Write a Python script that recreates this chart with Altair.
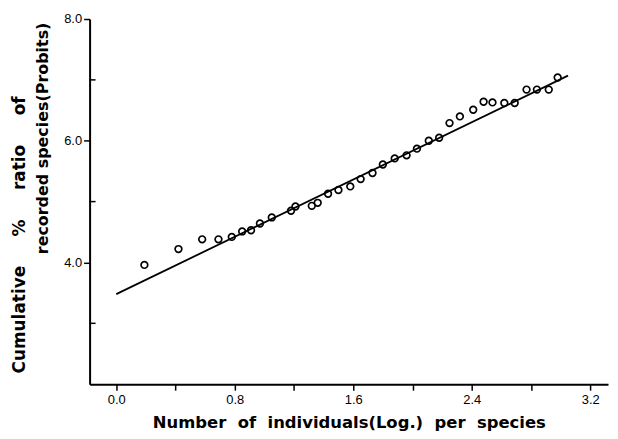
import altair as alt
import pandas as pd

# Observed points (log number of individuals, cumulative % in probits)
x_obs = [0.19, 0.42, 0.58, 0.69, 0.78, 0.85, 0.91, 0.97, 1.05, 1.18, 1.21,
         1.32, 1.36, 1.43, 1.50, 1.58, 1.65, 1.73, 1.80, 1.88, 1.96, 2.03,
         2.11, 2.18, 2.25, 2.32, 2.41, 2.48, 2.54, 2.62, 2.69, 2.77, 2.84,
         2.92, 2.98]
y_obs = [3.96, 4.22, 4.38, 4.38, 4.42, 4.51, 4.53, 4.64, 4.74, 4.85, 4.92,
         4.93, 4.98, 5.13, 5.19, 5.25, 5.37, 5.47, 5.61, 5.71, 5.76, 5.87,
         6.00, 6.05, 6.29, 6.40, 6.51, 6.64, 6.63, 6.62, 6.62, 6.84, 6.84,
         6.84, 7.04]

# Fitted line end points
x_fit = [0.0, 3.05]
y_fit = [3.48, 7.07]

x_tick_values = [0.0, 0.4, 0.8, 1.2, 1.6, 2.0, 2.4, 2.8, 3.2]
y_tick_values = [4.0, 6.0, 8.0]
y_minor_ticks = [3.0, 5.0, 7.0]

NB = "\u00a0"
x_title = (NB * 2).join(["Number", "of", "individuals(Log.)", "per", "species"])
y_title_1 = (NB * 5).join(["Cumulative", "%", "ratio", "of"])
y_title_2 = "recorded species(Probits)"

pts = pd.DataFrame({"x": x_obs, "y": y_obs})
fit = pd.DataFrame({"x": x_fit, "y": y_fit})
minor = pd.DataFrame({"y": y_minor_ticks})

xscale = alt.Scale(domain=[-0.18, 3.32], nice=False, zero=False)
yscale = alt.Scale(domain=[2.0, 8.0], nice=False, zero=False)

label_font = "Liberation Sans"
title_font = "DejaVu Sans"

xaxis = alt.Axis(values=x_tick_values, title=x_title,
                 labelExpr="(round(datum.value*10) % 8 == 0) ? format(datum.value, '.1f') : ''",
                 tickSize=6, labelPadding=3, labelFont=label_font, labelFontSize=13,
                 labelColor="black", titleFont=title_font, titleFontSize=16.5,
                 titleFontWeight="bold", titleColor="black", titlePadding=9)
yaxis = alt.Axis(values=y_tick_values, format=".1f", title=None,
                 tickSize=6, labelPadding=2, labelFont=label_font, labelFontSize=13,
                 labelColor="black")

x_enc = alt.X("x:Q", scale=xscale, axis=xaxis)
y_enc = alt.Y("y:Q", scale=yscale, axis=yaxis)

points = alt.Chart(pts).mark_point(
    shape="circle", filled=False, color="black", size=45, strokeWidth=1.7, opacity=1
).encode(x=x_enc, y=y_enc)

line = alt.Chart(fit).mark_line(color="black", strokeWidth=1.8).encode(x=x_enc, y=y_enc)

minor_ticks = alt.Chart(minor).mark_rule(color="black", strokeWidth=1.5).encode(
    y=y_enc,
    x=alt.value(0),
    x2=alt.value(6),
)

t1 = alt.Chart(alt.Data(values=[{}])).mark_text(
    text=y_title_1, angle=270, font=title_font, fontSize=17, fontWeight="bold",
    color="black", align="center", baseline="middle"
).encode(x=alt.value(-70), y=alt.value(217))

t2 = alt.Chart(alt.Data(values=[{}])).mark_text(
    text=y_title_2, angle=270, font=title_font, fontSize=16, fontWeight="bold",
    color="black", align="center", baseline="middle"
).encode(x=alt.value(-47), y=alt.value(120))

chart = alt.layer(points, line, minor_ticks, t1, t2).properties(
    width=521, height=367,
    autosize=alt.AutoSizeParams(type="none"),
    padding={"left": 82, "top": 10, "right": 2, "bottom": 52},
).configure_view(stroke=None).configure_axis(
    grid=False, domainColor="black", domainWidth=2, tickColor="black", tickWidth=1.5
)

chart.save("out.html", embed_options={"renderer": "svg", "actions": False})
